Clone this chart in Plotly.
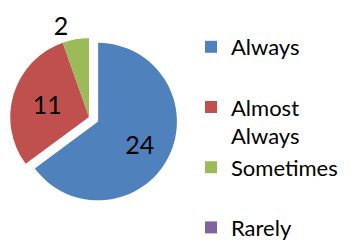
import plotly.graph_objects as go

categories = ["Always", "Almost Always", "Sometimes", "Rarely"]
values = [24, 11, 2, 0]
legend_labels = ["Always<br> ", "Almost<br>Always", "Sometimes<br> ", "Rarely"]
colors = ["#4F81BD", "#C0504D", "#9BBB59", "#8064A2"]
pulls = [0.13, 0, 0, 0]
text_positions = ["inside", "inside", "outside", "none"]
text_templates = [
    "<span style='font-size:1px'>\u00a0</span><br>\u00a0\u00a0%{value}",
    "%{value}",
    "%{value}",
    "%{value}",
]

W, H = 356, 245
cx, cy = 89, 117  # pixel center
half = 89
fig = go.Figure(go.Pie(
    labels=legend_labels,
    values=values,
    sort=False,
    direction="clockwise",
    rotation=0,
    pull=pulls,
    marker=dict(colors=colors, line=dict(width=0)),
    texttemplate=text_templates,
    textposition=text_positions,
    insidetextorientation="horizontal",
    textfont=dict(family="Lato, sans-serif", size=25, color="black"),
    domain=dict(x=[(cx - half) / W, (cx + half) / W],
                y=[(H - cy - 92) / H, (H - cy + 92) / H]),
    hoverinfo="label+value",
))

fig.update_layout(
    width=W, height=H,
    margin=dict(l=0, r=0, t=0, b=0, autoexpand=False),
    paper_bgcolor="white",
    plot_bgcolor="white",
    font=dict(family="Lato, sans-serif", size=22, color="black"),
    legend=dict(x=191 / W, y=1 - 26 / H, xanchor="left", yanchor="top",
                valign="top", bgcolor="rgba(0,0,0,0)", traceorder="normal",
                font=dict(size=22)),
    showlegend=True,
)
fig.write_html("out.html", config={"displayModeBar": False},
               post_script="document.body.style.margin='0';")
